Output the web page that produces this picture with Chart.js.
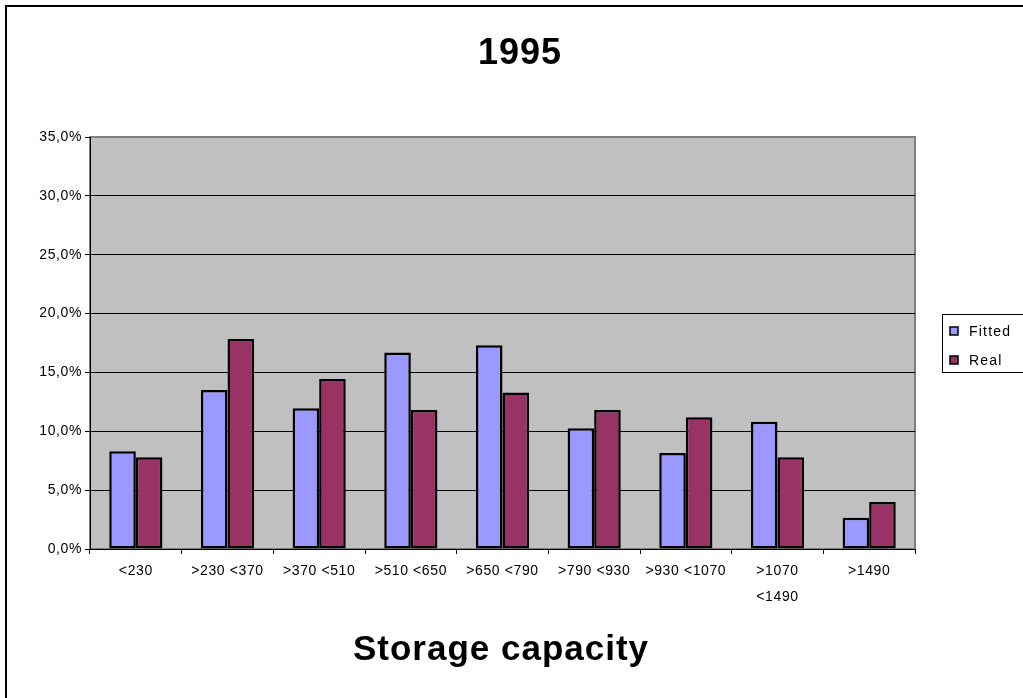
<!DOCTYPE html>
<html>
<head>
<meta charset="utf-8">
<title>1995 – Storage capacity</title>
<script src="https://cdn.jsdelivr.net/npm/chart.js@4.4.1/dist/chart.umd.min.js"></script>
<style>
  html, body { margin: 0; padding: 0; background: #ffffff; }
  canvas { display: block; }
</style>
</head>
<body>
<canvas id="chart" width="1023" height="698"></canvas>
<script>
// Storage capacity classes (a nested array is a two-line label)
const categories = ['<230', '>230 <370', '>370 <510', '>510 <650', '>650 <790',
                    '>790 <930', '>930 <1070', ['>1070', '<1490'], '>1490'];

// Share of each class, in percent
const fitted = [8.3, 13.5, 11.95, 16.7, 17.3, 10.25, 8.15, 10.8, 2.65];
const real   = [7.8, 17.85, 14.45, 11.8, 13.3, 11.8, 11.2, 7.8, 4.0];

// Value axis
const yMin = 0;
const yMax = 35;
const yStep = 5;

const chartTitle = '1995';
const axisTitle = 'Storage capacity';

const FONT = '"Liberation Sans", Arial, Helvetica, sans-serif';

// Background, frame, titles and the boxed legend
const framePlugin = {
  id: 'frame',
  beforeDraw(chart) {
    const { ctx, chartArea: a } = chart;
    ctx.save();
    ctx.fillStyle = '#ffffff';
    ctx.fillRect(0, 0, chart.width, chart.height);
    // outer chart border (runs off the right and bottom edges)
    ctx.strokeStyle = '#000000';
    ctx.lineWidth = 2;
    ctx.strokeRect(6, 6, chart.width + 40, chart.height + 40);
    // grey plot area
    ctx.fillStyle = '#c0c0c0';
    ctx.fillRect(a.left, a.top, a.right - a.left, a.bottom - a.top);
    ctx.strokeStyle = '#808080';
    ctx.lineWidth = 2;
    ctx.strokeRect(a.left, a.top, a.right - a.left, a.bottom - a.top);
    ctx.restore();
    // the small axis text is set slightly wide
    ctx.letterSpacing = '0.6px';
  },
  beforeDatasetsDraw(chart) {
    chart.ctx.letterSpacing = '0px';
  },
  afterDraw(chart) {
    const ctx = chart.ctx;
    ctx.save();
    ctx.fillStyle = '#000000';
    ctx.textAlign = 'center';
    ctx.textBaseline = 'alphabetic';

    ctx.letterSpacing = '1px';
    ctx.font = 'bold 36px ' + FONT;
    ctx.fillText(chartTitle, 520, 64);

    ctx.letterSpacing = '1px';
    ctx.font = 'bold 35px ' + FONT;
    ctx.fillText(axisTitle, 501, 660);

    // legend box
    ctx.letterSpacing = '1.2px';
    ctx.fillStyle = '#ffffff';
    ctx.fillRect(942, 314, 120, 58);
    ctx.strokeStyle = '#000000';
    ctx.lineWidth = 1;
    ctx.strokeRect(942.5, 314.5, 120, 58);
    ctx.font = '14px ' + FONT;
    ctx.textAlign = 'left';
    ctx.textBaseline = 'middle';
    chart.data.datasets.forEach((ds, i) => {
      const cy = 331 + i * 29;
      ctx.fillStyle = ds.backgroundColor;
      ctx.fillRect(950, cy - 4, 8, 8);
      ctx.strokeStyle = '#000000';
      ctx.lineWidth = 1.5;
      ctx.strokeRect(950, cy - 4, 8, 8);
      ctx.fillStyle = '#000000';
      ctx.fillText(ds.label, 969, cy + 1);
    });
    ctx.restore();
  }
};

new Chart(document.getElementById('chart'), {
  type: 'bar',
  data: {
    labels: categories,
    datasets: [
      {
        label: 'Fitted',
        data: fitted,
        backgroundColor: '#9999ff',
        borderColor: '#000000',
        borderWidth: 2.5,
        borderSkipped: false
      },
      {
        label: 'Real',
        data: real,
        backgroundColor: '#993366',
        borderColor: '#000000',
        borderWidth: 2.5,
        borderSkipped: false
      }
    ]
  },
  options: {
    responsive: false,
    animation: false,
    events: [],
    categoryPercentage: 0.58,
    barPercentage: 1.0,
    layout: { padding: { left: 0, top: 137, right: 108, bottom: 0 } },
    plugins: {
      legend: { display: false },
      title: { display: false },
      tooltip: { enabled: false }
    },
    scales: {
      x: {
        offset: true,
        grid: {
          offset: true,
          drawOnChartArea: false,
          drawTicks: true,
          tickLength: 5,
          color: '#000000',
          tickColor: '#000000'
        },
        border: { display: true, color: '#000000', width: 1 },
        ticks: {
          color: '#000000',
          font: { family: FONT, size: 14, lineHeight: 1.85 },
          padding: 4,
          maxRotation: 0,
          minRotation: 0,
          autoSkip: false
        },
        afterFit(scale) { scale.height = 149; }
      },
      y: {
        min: yMin,
        max: yMax,
        ticks: {
          stepSize: yStep,
          color: '#000000',
          font: { family: FONT, size: 14 },
          padding: 3,
          callback: (v) => v.toFixed(1).replace('.', ',') + '%'
        },
        grid: {
          color: (c) => (c.tick && c.tick.value === yMax ? '#808080' : '#000000'),
          lineWidth: 1,
          tickColor: '#000000',
          tickLength: 5,
          drawTicks: true
        },
        border: { display: true, color: '#000000', width: 1 },
        afterFit(scale) { scale.width = 90; }
      }
    }
  },
  plugins: [framePlugin]
});
</script>
</body>
</html>
